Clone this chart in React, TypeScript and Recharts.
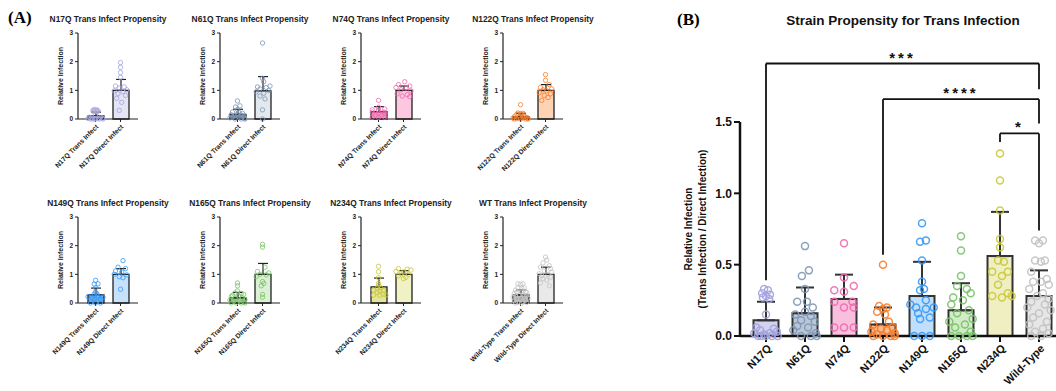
import React from "react";
import {
  ComposedChart,
  Bar,
  Cell,
  ErrorBar,
  Scatter,
  XAxis,
  YAxis,
  ReferenceLine,
} from "recharts";

// strains, in plotting order
const strains = ["N17Q", "N61Q", "N74Q", "N122Q", "N149Q", "N165Q", "N234Q", "Wild-Type"];
const shortNames = ["N17Q", "N61Q", "N74Q", "N122Q", "N149Q", "N165Q", "N234Q", "WT"];

// trans / direct ratio: bar means and upper SD
const transMeans = [0.11, 0.16, 0.26, 0.08, 0.28, 0.18, 0.56, 0.28];
const transSd = [0.13, 0.18, 0.17, 0.12, 0.24, 0.19, 0.31, 0.18];

// direct infection (normalised) means and upper SD
const directMeans = [1.0, 0.98, 1.0, 1.0, 1.0, 1.0, 1.0, 1.0];
const directSd = [0.38, 0.5, 0.15, 0.2, 0.2, 0.38, 0.13, 0.25];

// individual replicates: [horizontal jitter (band units), value]
const transPoints: number[][][] = [
  [[-0.05, 0.33], [0.05, 0.32], [-0.1, 0.3], [0.1, 0.29], [0, 0.28], [-0.08, 0.27], [0.08, 0.26], [0, 0.15], [-0.25, 0.06], [0.2, 0.05], [-0.15, 0.04], [0.28, 0.03], [-0.3, 0.02], [0.1, 0.02], [-0.05, 0.01], [0.15, 0.0], [-0.2, 0.0], [0.3, 0.0], [0, 0.0], [-0.12, 0.0]],
  [[0, 0.63], [0.1, 0.46], [-0.08, 0.42], [0, 0.33], [-0.2, 0.24], [0.05, 0.24], [0.2, 0.2], [0, 0.17], [-0.25, 0.15], [0.15, 0.14], [-0.1, 0.11], [0.25, 0.1], [-0.2, 0.07], [0.08, 0.06], [-0.3, 0.04], [0.28, 0.02], [-0.1, 0.0], [0.15, 0.0], [0.3, 0.0]],
  [[0, 0.65], [0, 0.41], [0.25, 0.35], [-0.25, 0.32], [0, 0.31], [0.22, 0.24], [-0.25, 0.24], [0, 0.2], [0.25, 0.2], [-0.25, 0.06], [0, 0.06], [0.25, 0.06]],
  [[0, 0.5], [-0.1, 0.21], [0.1, 0.2], [0, 0.19], [-0.15, 0.17], [0.05, 0.15], [0.15, 0.1], [-0.25, 0.08], [0.25, 0.06], [-0.05, 0.05], [0.1, 0.04], [-0.3, 0.03], [0.3, 0.02], [-0.15, 0.01], [0.2, 0.0], [-0.25, 0.0], [0, 0.0], [0.3, 0.0]],
  [[0, 0.79], [-0.05, 0.66], [0.1, 0.67], [0, 0.53], [0, 0.38], [-0.05, 0.32], [0.05, 0.33], [0.1, 0.25], [-0.3, 0.22], [0.3, 0.2], [-0.15, 0.2], [0.1, 0.19], [-0.1, 0.16], [0.2, 0.13], [-0.05, 0.12], [-0.2, 0.0], [0, 0.0], [0.2, 0.0]],
  [[0, 0.7], [0, 0.6], [0, 0.42], [-0.1, 0.35], [0.15, 0.33], [0.25, 0.3], [-0.2, 0.27], [0.05, 0.25], [-0.25, 0.22], [0.2, 0.18], [-0.1, 0.16], [0.3, 0.12], [-0.3, 0.1], [0.1, 0.08], [-0.15, 0.06], [0.25, 0.03], [-0.25, 0.0], [-0.05, 0.0], [0.15, 0.0], [0.3, 0.0]],
  [[0, 1.28], [0, 1.09], [0, 0.88], [0, 0.68], [0, 0.62], [-0.05, 0.53], [0.1, 0.52], [-0.2, 0.45], [0.2, 0.45], [0.05, 0.42], [-0.05, 0.36], [0.2, 0.3], [-0.2, 0.28], [0.05, 0.27], [0.3, 0.28]],
  [[-0.1, 0.67], [0.1, 0.67], [0, 0.65], [-0.1, 0.53], [0.15, 0.53], [0.05, 0.52], [-0.2, 0.45], [0.2, 0.4], [-0.15, 0.38], [0.05, 0.38], [0.25, 0.36], [-0.25, 0.33], [0.1, 0.3], [-0.05, 0.28], [0.25, 0.26], [-0.2, 0.24], [0.15, 0.22], [-0.3, 0.2], [0.3, 0.18], [0, 0.16], [-0.15, 0.13], [0.2, 0.1], [-0.25, 0.08], [0.1, 0.05], [-0.1, 0.03], [0.25, 0.02], [-0.2, 0.0], [0.05, 0.0]],
];

const directPoints: number[][][] = [
  [[0, 1.97], [0, 1.8], [0, 1.62], [0, 1.45], [-0.2, 1.15], [0.15, 1.12], [-0.05, 1.08], [0.25, 1.02], [-0.25, 0.98], [0.1, 0.95], [-0.1, 0.88], [0.2, 0.82], [-0.15, 0.72], [0.05, 0.58], [-0.05, 0.3]],
  [[0, 2.65], [0, 1.42], [0.05, 1.3], [0.3, 1.15], [-0.2, 1.12], [0.15, 1.1], [-0.1, 1.05], [0.25, 1.0], [-0.25, 0.95], [0.05, 0.9], [-0.1, 0.8], [0.1, 0.7], [0, 0.32], [0, 0.0]],
  [[0.05, 1.3], [-0.2, 1.2], [0.25, 1.15], [-0.3, 1.1], [0.1, 1.08], [-0.1, 1.02], [0.3, 0.98], [-0.25, 0.88], [0.15, 0.85], [-0.05, 0.8], [0.25, 0.78]],
  [[0, 1.55], [0, 1.35], [0.15, 1.2], [-0.2, 1.1], [0.25, 1.05], [-0.1, 1.02], [0.05, 0.98], [-0.25, 0.92], [0.2, 0.88], [-0.05, 0.82], [0.1, 0.75], [-0.15, 0.65]],
  [[0.1, 1.48], [-0.1, 1.25], [0.2, 1.2], [-0.2, 1.12], [0.05, 1.08], [-0.25, 1.0], [0.25, 0.98], [-0.05, 0.92], [0.1, 0.88], [0, 0.48]],
  [[0, 2.05], [0, 1.95], [0.1, 1.25], [-0.2, 1.1], [0.25, 1.05], [-0.1, 1.0], [0.15, 0.98], [-0.25, 0.92], [0, 0.75], [0.05, 0.68], [-0.05, 0.6], [0, 0.3], [0, 0.2]],
  [[-0.2, 1.2], [0.15, 1.18], [0.3, 1.15], [-0.3, 1.1], [0, 1.08], [-0.1, 1.02], [0.2, 1.0], [-0.2, 0.95], [0.1, 0.9], [0, 0.85]],
  [[0, 1.6], [0.05, 1.5], [-0.1, 1.4], [0.15, 1.3], [-0.2, 1.25], [0.2, 1.2], [-0.05, 1.12], [0.25, 1.08], [-0.25, 1.02], [0.1, 1.0], [-0.15, 0.95], [0.2, 0.9], [-0.1, 0.85], [0.05, 0.8], [-0.2, 0.7], [0.15, 0.6]],
];

// colours
const dotColors = ["#a3a3de", "#7f98b6", "#f06aae", "#f57e2f", "#3a99f6", "#78c267", "#c9c93a", "#c2c2c2"];
const bigFills = ["#d2d2f2", "#bac7d7", "#f9bfdc", "#fbb98c", "#c0dffc", "#d2ecca", "#efefc2", "#e6e6e6"];
const transFills = ["#a9a9e0", "#5a7393", "#f48cc0", "#f2772b", "#6cb2f6", "#a3d395", "#e4e49a", "#a9a9a9"];
const directFills = ["#e4e4f5", "#e3e8ee", "#fbc7e1", "#fdd3b4", "#c6e1fb", "#dcf0d5", "#f1f1c6", "#e9e9e9"];

// significance brackets on panel B (values in y units)
const brackets = [
  { from: "N17Q", to: "Wild-Type", top: 1.91, leftEnd: 0.39, rightEnd: 1.73, text: "***" },
  { from: "N122Q", to: "Wild-Type", top: 1.66, leftEnd: 0.57, rightEnd: 1.49, text: "****" },
  { from: "N234Q", to: "Wild-Type", top: 1.42, leftEnd: 1.36, rightEnd: 0.74, text: "*" },
];

// small-panel grid
const colAxisX = [78, 220, 361, 503];
const rowTops = [0, 184];

const FONT = "'Liberation Sans', Arial, sans-serif";
const INK = "#222";

const dotShape = (color: string, r: number, sw: number) => (p: any) =>
  <circle cx={p.cx} cy={p.cy} r={r} fill="none" stroke={color} strokeWidth={sw} strokeOpacity={0.9} />;

const SmallTick = (p: any) => (
  <text
    x={p.x + 2}
    y={p.y + 2}
    transform={`rotate(-45, ${p.x + 2}, ${p.y + 2})`}
    textAnchor="end"
    dominantBaseline="middle"
    fontSize={6.8}
    fontWeight="bold"
    fontFamily={FONT}
    fill="#222"
    stroke="none"
  >
    {p.payload.value}
  </text>
);

const BigTick = (p: any) => (
  <text
    x={p.x + 4}
    y={p.y + 3}
    transform={`rotate(-45, ${p.x + 4}, ${p.y + 3})`}
    textAnchor="end"
    dominantBaseline="middle"
    fontSize={11}
    fontWeight="bold"
    fontFamily={FONT}
    fill="#111"
    stroke="none"
  >
    {p.payload.value}
  </text>
);

const SmallChart = ({ g }: { g: number }) => {
  const col = g % 4;
  const row = Math.floor(g / 4);
  const left = colAxisX[col] - 58;
  const top = rowTops[row];
  const lab = g === 7 ? "Wild-Type" : strains[g];
  const rows = [
    { name: `${lab} Trans Infect`, mean: transMeans[g], err: [0, transSd[g]] },
    { name: `${lab} Direct Infect`, mean: directMeans[g], err: [0, directSd[g]] },
  ];
  const tPts = transPoints[g].map(([dx, y]) => ({ x: dx, y }));
  const dPts = directPoints[g].map(([dx, y]) => ({ x: 1 + dx, y }));

  return (
    <div style={{ position: "absolute", left, top, width: 128, height: 200 }}>
      <div
        style={{
          position: "absolute",
          left: 58 - 60,
          width: 180,
          top: 14,
          textAlign: "center",
          fontSize: 8.4,
          fontWeight: "bold",
          fontFamily: FONT,
          color: INK,
          whiteSpace: "nowrap",
        }}
      >
        {shortNames[g]} Trans Infect Propensity
      </div>
      <ComposedChart
        width={128}
        height={200}
        data={rows}
        margin={{ top: 33, right: 10, bottom: 0, left: 0 }}
        style={{ overflow: "visible" }}
      >
        <XAxis
          xAxisId="cat"
          dataKey="name"
          type="category"
          padding={{ left: 5, right: 5 }}
          height={81}
          interval={0}
          tickSize={3}
          axisLine={{ stroke: INK, strokeWidth: 1.2 }}
          tickLine={{ stroke: INK, strokeWidth: 1 }}
          tick={<SmallTick />}
        />
        <XAxis xAxisId="num" dataKey="x" type="number" domain={[-0.5, 1.5]} padding={{ left: 5, right: 5 }} hide allowDataOverflow />
        <YAxis
          dataKey="y"
          type="number"
          domain={[0, 3]}
          ticks={[0, 1, 2, 3]}
          width={58}
          tickSize={3}
          axisLine={{ stroke: INK, strokeWidth: 1.2 }}
          tickLine={{ stroke: INK, strokeWidth: 1 }}
          tick={{ fontSize: 6.5, fontWeight: "bold", fontFamily: FONT, fill: INK }}
          label={(p: any) => {
            const vb = p.viewBox;
            const cx = vb.x + vb.width - 15;
            const cy = vb.y + vb.height / 2;
            return (
              <text x={cx} y={cy} transform={`rotate(-90, ${cx}, ${cy})`} textAnchor="middle" fontSize={7} fontWeight="bold" fontFamily={FONT} fill={INK}>
                Relative Infection
              </text>
            );
          }}
        />
        <Bar xAxisId="cat" dataKey="mean" barSize={16} stroke={INK} strokeWidth={1.3} isAnimationActive={false}>
          <Cell fill={transFills[g]} />
          <Cell fill={directFills[g]} />
          <ErrorBar dataKey="err" width={5} stroke={INK} strokeWidth={1.2} direction="y" />
        </Bar>
        <Scatter xAxisId="num" data={tPts} shape={dotShape(dotColors[g], 2.2, 0.9)} isAnimationActive={false} />
        <Scatter xAxisId="num" data={dPts} shape={dotShape(dotColors[g], 2.2, 0.9)} isAnimationActive={false} />
      </ComposedChart>
    </div>
  );
};

const BigChart = () => {
  const rows = strains.map((name, i) => ({ name, mean: transMeans[i], err: [0, transSd[i]] }));
  return (
    <div style={{ position: "absolute", left: 640, top: 0, width: 430, height: 391 }}>
      <ComposedChart
        width={430}
        height={391}
        data={rows}
        margin={{ top: 122, right: 10, bottom: 0, left: 0 }}
        style={{ overflow: "visible" }}
      >
        <XAxis
          xAxisId="cat"
          dataKey="name"
          type="category"
          padding={{ left: 6.5, right: 1.5 }}
          height={55}
          interval={0}
          tickSize={6}
          axisLine={{ stroke: "#111", strokeWidth: 2.5 }}
          tickLine={{ stroke: "#111", strokeWidth: 2 }}
          tick={<BigTick />}
        />
        <XAxis xAxisId="num" dataKey="x" type="number" domain={[-0.5, 7.5]} padding={{ left: 6.5, right: 1.5 }} hide allowDataOverflow />
        <YAxis
          dataKey="y"
          type="number"
          domain={[0, 1.5]}
          ticks={[0, 0.5, 1, 1.5]}
          tickFormatter={(v: number) => v.toFixed(1)}
          width={100}
          tickSize={6}
          axisLine={{ stroke: "#111", strokeWidth: 2.5 }}
          tickLine={{ stroke: "#111", strokeWidth: 2 }}
          tick={{ fontSize: 12, fontWeight: "bold", fontFamily: FONT, fill: "#111" }}
          label={(p: any) => {
            const vb = p.viewBox;
            const cy = vb.y + vb.height / 2;
            const x1 = vb.x + 52;
            const x2 = vb.x + 66;
            return (
              <g>
                <text x={x1} y={cy} transform={`rotate(-90, ${x1}, ${cy})`} textAnchor="middle" fontSize={10} fontWeight="bold" fontFamily={FONT} fill="#111">
                  Relative Infection
                </text>
                <text x={x2} y={cy} transform={`rotate(-90, ${x2}, ${cy})`} textAnchor="middle" fontSize={10} fontWeight="bold" fontFamily={FONT} fill="#111">
                  (Trans Infection / Direct Infection)
                </text>
              </g>
            );
          }}
        />
        <Bar xAxisId="cat" dataKey="mean" barSize={25} stroke="#333" strokeWidth={2} isAnimationActive={false}>
          {strains.map((s, i) => (
            <Cell key={s} fill={bigFills[i]} />
          ))}
          <ErrorBar dataKey="err" width={9} stroke="#333" strokeWidth={2} direction="y" />
        </Bar>
        {strains.map((s, i) => (
          <Scatter
            key={s}
            xAxisId="num"
            data={transPoints[i].map(([dx, y]) => ({ x: i + dx, y }))}
            shape={dotShape(dotColors[i], 3.5, 1.5)}
            isAnimationActive={false}
          />
        ))}
        {brackets.map((b) => [
          <ReferenceLine
            key={b.text + "h"}
            xAxisId="cat"
            ifOverflow="visible"
            segment={[{ x: b.from, y: b.top }, { x: b.to, y: b.top }]}
            stroke="#111"
            strokeWidth={1.8}
            label={{ value: b.text, position: "top", fontSize: 15, fontWeight: "bold", fill: "#111", letterSpacing: 3, offset: 1 }}
          />,
          <ReferenceLine
            key={b.text + "l"}
            xAxisId="cat"
            ifOverflow="visible"
            segment={[{ x: b.from, y: b.top }, { x: b.from, y: b.leftEnd }]}
            stroke="#111"
            strokeWidth={1.8}
          />,
          <ReferenceLine
            key={b.text + "r"}
            xAxisId="cat"
            ifOverflow="visible"
            segment={[{ x: b.to, y: b.top }, { x: b.to, y: b.rightEnd }]}
            stroke="#111"
            strokeWidth={1.8}
          />,
        ])}
      </ComposedChart>
    </div>
  );
}

export default function App() {
  return (
    <div
      style={{
        position: "absolute",
        left: 0,
        top: 0,
        width: 1056,
        height: 391,
        overflow: "hidden",
        background: "#fff",
        fontFamily: FONT,
      }}
    >
      <div style={{ position: "absolute", left: 8, top: 8, fontFamily: "'Liberation Serif', serif", fontWeight: "bold", fontSize: 17 }}>(A)</div>
      <div style={{ position: "absolute", left: 677, top: 10, fontFamily: "'Liberation Serif', serif", fontWeight: "bold", fontSize: 17 }}>(B)</div>
      <div
        style={{
          position: "absolute",
          left: 763,
          width: 280,
          top: 13,
          textAlign: "center",
          fontSize: 13.5,
          fontWeight: "bold",
          color: "#111",
          whiteSpace: "nowrap",
        }}
      >
        Strain Propensity for Trans Infection
      </div>
      {strains.map((s, g) => (
        <SmallChart key={s} g={g} />
      ))}
      <BigChart />
    </div>
  );
}
